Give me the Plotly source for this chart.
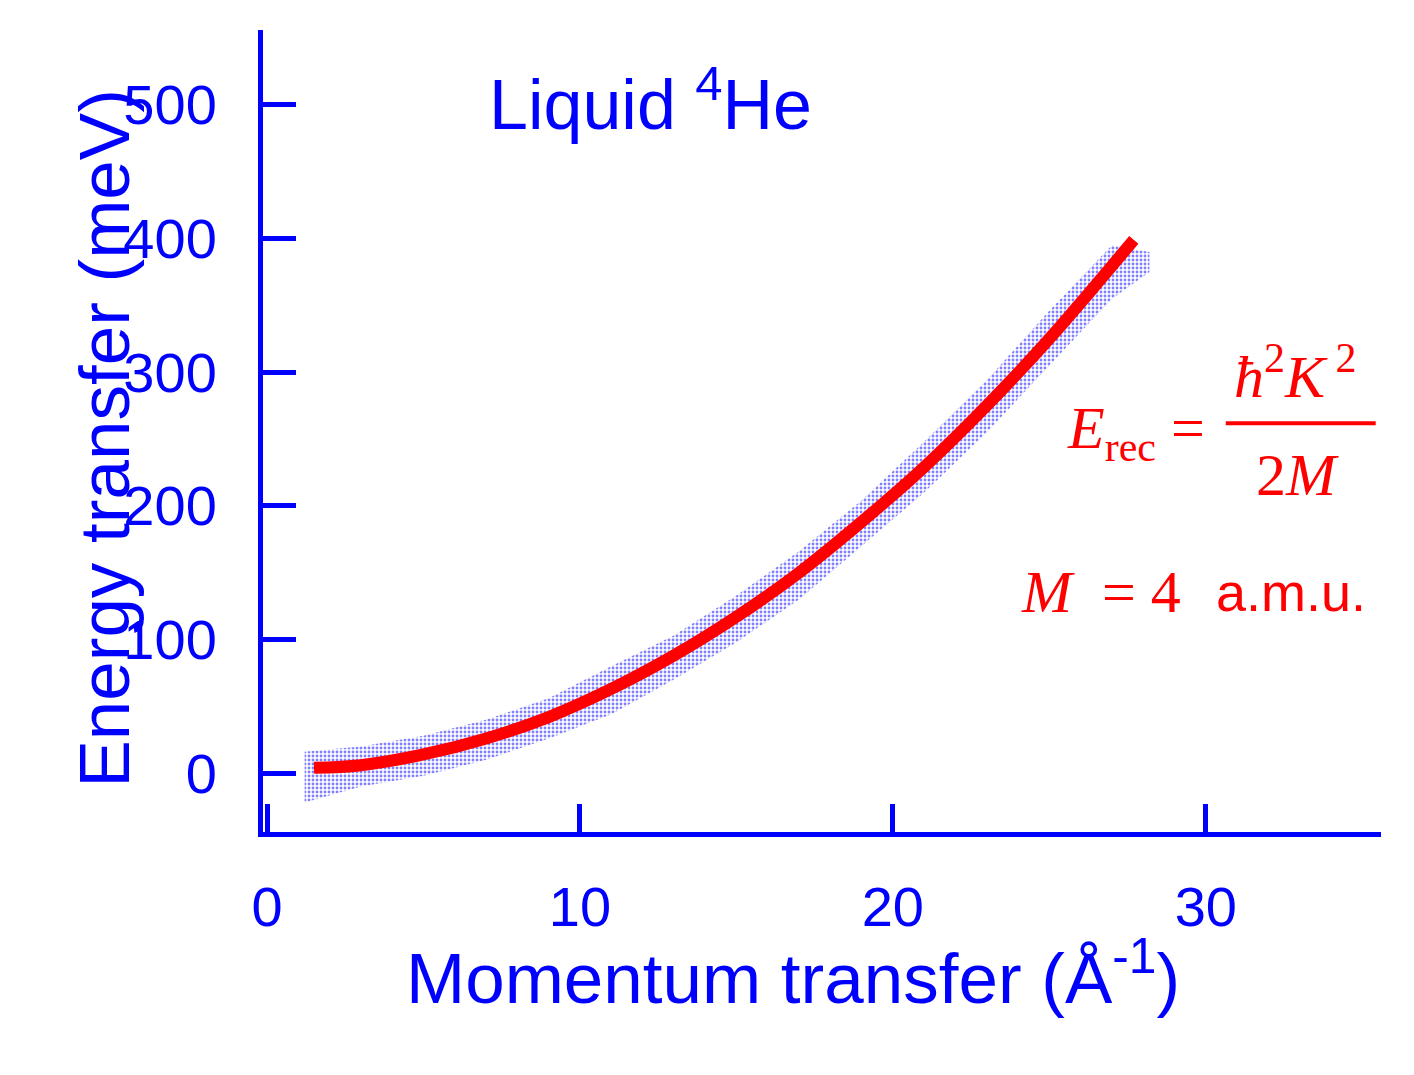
import plotly.graph_objects as go

# data
K = [1.5, 3, 5, 7, 9, 11, 13, 15, 17, 19, 21, 23, 25, 27.7]
E_recoil = [4, 6, 14, 26, 42, 63, 88, 117, 150, 188, 229, 275, 325, 399]
band_K = [1.2, 3, 5, 7, 9, 11, 13, 15, 17, 19, 21, 23, 25, 27, 28.2]
band_upper = [16, 20, 28, 40, 56, 80, 103, 133, 166, 204, 248, 294, 346, 395, 390]
band_lower = [-22, -10, -2, 10, 26, 44, 70, 98, 130, 170, 210, 255, 305, 355, 375]
xticks = [0, 10, 20, 30]
yticks = [0, 100, 200, 300, 400, 500]

blue = "rgb(0,0,255)"
red = "rgb(255,0,0)"
fig = go.Figure()
fig.add_trace(go.Scatter(x=band_K, y=band_lower, mode="lines", line=dict(width=0), showlegend=False))
fig.add_trace(go.Scatter(x=band_K, y=band_upper, mode="lines", line=dict(width=0), fill="tonexty",
                         fillcolor="rgba(0,0,255,0.2)",
                         fillpattern=dict(shape=".", fgcolor=blue, bgcolor="rgba(0,0,0,0)", size=4, solidity=0.4),
                         showlegend=False))
fig.add_trace(go.Scatter(x=K, y=E_recoil, mode="lines", line=dict(color=red, width=12, shape="spline"),
                         showlegend=False))

def px2x(px): return (px - 266) / 31.3
def px2y(py): return (773 - py) / 1.337

ann = [
    dict(x=px2x(650), y=px2y(100), text="Liquid <sup>4</sup>He", font=dict(size=70, color=blue, family="Liberation Sans")),
    dict(x=px2x(1295), y=px2y(372), text="<i>ħ</i><sup>2</sup><i>K</i><sup> 2</sup>", font=dict(size=60, color=red, family="Liberation Serif")),
    dict(x=px2x(1297), y=px2y(475), text="2<i>M</i>", font=dict(size=60, color=red, family="Liberation Serif")),
    dict(x=px2x(1135), y=px2y(432), text="<i>E</i><sub>rec</sub> =", font=dict(size=60, color=red, family="Liberation Serif")),
    dict(x=px2x(1100), y=px2y(592), text="<i>M</i>  = 4", font=dict(size=60, color=red, family="Liberation Serif")),
    dict(x=px2x(1290), y=px2y(592), text="a.m.u.", font=dict(size=54, color=red, family="Liberation Sans")),
]
annotations = [dict(a, xref="x", yref="y", showarrow=False) for a in ann]
annotations += [
    dict(x=0.474, y=-0.234, xref="paper", yref="paper", showarrow=False,
         text="Momentum transfer (Å<sup>-1</sup>)", font=dict(size=71, color=blue, family="Liberation Sans")),
    dict(x=-0.179, y=0.491, xref="paper", yref="paper", showarrow=False, textangle=-90,
         text="Energy transfer (meV)", font=dict(size=71, color=blue, family="Liberation Sans")),
]

fig.update_layout(
    width=1414, height=1075, paper_bgcolor="white", plot_bgcolor="white",
    margin=dict(l=255, r=41, t=22, b=251),
    annotations=annotations,
    shapes=[dict(type="line", xref="x", yref="y", x0=px2x(1225), x1=px2x(1375), y0=px2y(423), y1=px2y(423),
                 line=dict(color=red, width=4))],
    xaxis=dict(range=[-0.13, 35.6], tickvals=xticks, ticks="inside", ticklen=28, tickwidth=5, tickcolor=blue,
               showline=True, linewidth=5, linecolor=blue, showgrid=False, zeroline=False, ticklabelstandoff=22,
               tickfont=dict(size=56, color=blue, family="Liberation Sans")),
    yaxis=dict(range=[-44, 556], tickvals=yticks, ticks="inside", ticklen=33, tickwidth=5, tickcolor=blue,
               showline=True, linewidth=5, linecolor=blue, showgrid=False, zeroline=False, ticklabelstandoff=30,
               tickfont=dict(size=56, color=blue, family="Liberation Sans")),
)
fig.write_html("out.html")
